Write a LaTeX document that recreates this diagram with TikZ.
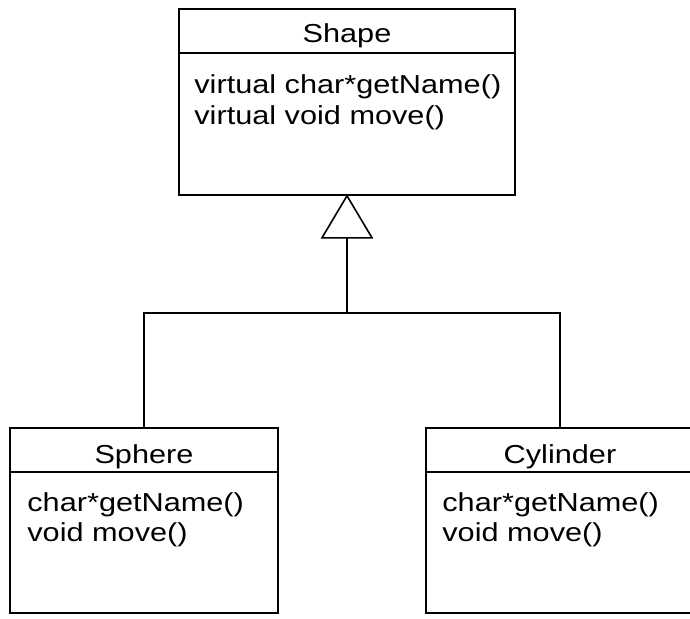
\documentclass[tikz,border=0pt]{standalone}
\usepackage{fontspec}
\setmainfont{Liberation Sans}[FakeStretch=1.18]
\begin{document}
\begin{tikzpicture}[x=1pt,y=-1pt,
  classbox/.style={draw, line width=1.6pt, rectangle, inner sep=0pt,
    minimum width=268pt, minimum height=185pt},
  title/.style={anchor=base, inner sep=0pt, font=\fontsize{26}{31}\selectfont},
  member/.style={anchor=base west, inner sep=0pt, font=\fontsize{26}{31}\selectfont},
  link/.style={line width=1.6pt}]
\useasboundingbox (0,0) rectangle (690,618);
\clip (0,0) rectangle (690,618);

% class boxes
\node[classbox, minimum width=336pt, minimum height=186pt] (shape) at (347,102) {};
\node[classbox] (sphere) at (144,520.5) {};
\node[classbox] (cylinder) at (560,520.5) {};

% name compartment separators
\foreach \cls in {shape, sphere, cylinder} {
  \coordinate (\cls-sepl) at ([yshift=-45pt]\cls.north west);
  \coordinate (\cls-sepr) at ([yshift=-45pt]\cls.north east);
  \draw[link] (\cls-sepl) -- (\cls-sepr);
}

% class names
\path (shape.north) ++(0,34) node[title] (shape-name) {Shape};
\path (sphere.north) ++(0,36) node[title] (sphere-name) {Sphere};
\path (cylinder.north) ++(0,36) node[title] (cylinder-name) {Cylinder};

% operations
\path (shape.north west) ++(16,85) node[member] (shape-op1) {virtual char*getName()};
\path (shape.north west) ++(16,116) node[member] (shape-op2) {virtual void move()};
\path (sphere.north west) ++(18,84) node[member] (sphere-op1) {char*getName()};
\path (sphere.north west) ++(18,114) node[member] (sphere-op2) {void move()};
\path (cylinder.north west) ++(17,84) node[member] (cylinder-op1) {char*getName()};
\path (cylinder.north west) ++(17,114) node[member] (cylinder-op2) {void move()};

% generalization: hollow triangle under the superclass, then a shared tree
\coordinate (apex) at (shape.south);
\coordinate (tri-left) at ([shift={(-25,42)}]apex);
\coordinate (tri-right) at ([shift={(25,42)}]apex);
\coordinate (tri-base) at ([shift={(0,42)}]apex);
\coordinate (join) at ([shift={(0,117)}]apex);
\draw[link, line join=miter] (apex) -- (tri-left) -- (tri-right) -- cycle;
\draw[link] (tri-base) -- (join);
\draw[link] (sphere.north) |- (join) -| (cylinder.north);
\end{tikzpicture}
\end{document}
